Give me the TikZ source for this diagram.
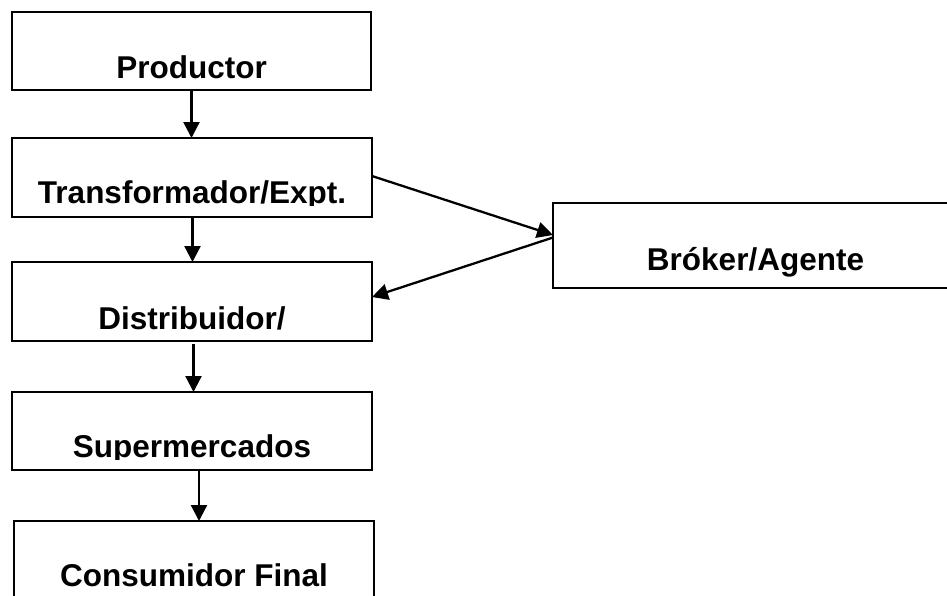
\documentclass[tikz,border=0pt]{standalone}
\usepackage{fontspec}
\setmainfont{Liberation Sans}
\usetikzlibrary{arrows.meta}

\tikzset{
  box/.style={draw, line width=2pt, inner sep=0pt, outer sep=0pt, anchor=north west},
  lbl/.style={font=\bfseries\fontsize{31.5}{36}\selectfont, anchor=base, inner sep=0pt},
  arr/.style={line width=2.3pt, -{Triangle[length=16pt,width=16pt]}}
}

\begin{document}
\begin{tikzpicture}[x=1pt, y=-1pt]
  \useasboundingbox (0,0) rectangle (947,595);
  \clip (0,0) rectangle (947,595);

  % chain of boxes
  \node[box, minimum width=359pt, minimum height=78pt] (b1) at (12,12) {};
  \node[box, minimum width=360pt, minimum height=79pt] (b2) at (12,138) {};
  \node[box, minimum width=360pt, minimum height=79pt] (b3) at (12,262) {};
  \node[box, minimum width=360pt, minimum height=78pt] (b4) at (12,392) {};
  \node[box, minimum width=360pt, minimum height=80pt] (b5) at (14,521) {};
  \node[box, minimum width=405pt, minimum height=85pt] (b6) at (553,203) {};

  % labels, cut just under the baseline
  \begin{scope}
    \clip (b1.north west) rectangle ([yshift=-68pt]b1.north east);
    \node[lbl] (t1) at ([yshift=-66pt]b1.north) {Productor};
  \end{scope}
  \begin{scope}
    \clip (b2.north west) rectangle ([yshift=-67pt]b2.north east);
    \node[lbl] (t2) at ([yshift=-65pt]b2.north) {Transformador/Expt.};
  \end{scope}
  \begin{scope}
    \clip (b3.north west) rectangle ([yshift=-69pt]b3.north east);
    \node[lbl] (t3) at ([yshift=-67pt]b3.north) {Distribuidor/};
  \end{scope}
  \begin{scope}
    \clip (b4.north west) rectangle ([yshift=-67pt]b4.north east);
    \node[lbl] (t4) at ([yshift=-65pt]b4.north) {Supermercados};
  \end{scope}
  \node[lbl] (t5) at ([yshift=-65pt]b5.north) {Consumidor Final};
  \node[lbl] (t6) at ([yshift=-67pt]b6.north) {Bróker/Agente};

  % vertical flow
  \draw[arr] (b1.south) -- (b1.south |- b2.north);
  \draw[arr] ([xshift=0.5pt]b2.south) -- ([xshift=0.5pt]b2.south |- b3.north);
  \draw[arr] ([xshift=1.5pt,yshift=-3pt]b3.south) -- ([xshift=1.5pt]b3.south |- b4.north);
  \draw[arr] ([xshift=7pt]b4.south) -- ([xshift=7pt]b4.south |- b5.north);

  % via the broker
  \draw[arr] ([yshift=1.5pt]b2.east) -- ([yshift=10.5pt]b6.west);
  \draw[arr] ([yshift=8pt]b6.west) -- ([yshift=4.5pt]b3.east);
\end{tikzpicture}
\end{document}
